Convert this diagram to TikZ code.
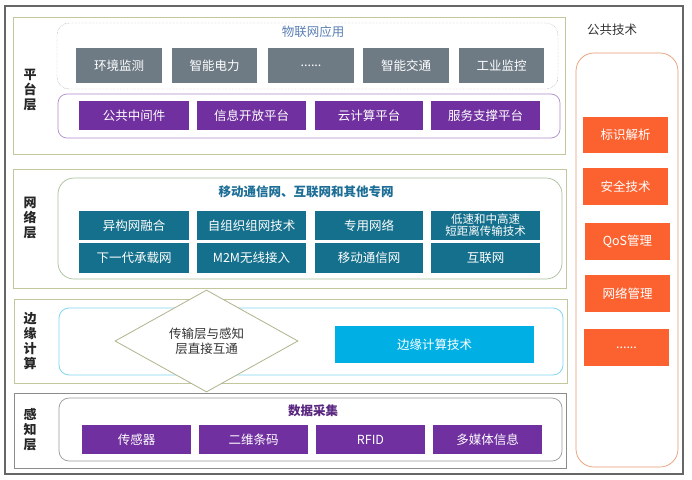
\documentclass[tikz,border=0pt]{standalone}
\usepackage{fontspec}
\setmainfont{Noto Sans CJK SC}
\usetikzlibrary{shapes.geometric}
\definecolor{cgray}{HTML}{6E7B85}
\definecolor{cpurple}{HTML}{7030A0}
\definecolor{cteal}{HTML}{14708C}
\definecolor{ccyan}{HTML}{00B0E4}
\definecolor{corange}{HTML}{FC6230}
\definecolor{colive}{HTML}{C4C79C}
\definecolor{ctitle}{HTML}{5B7FB4}
\definecolor{cnet}{HTML}{1C6E96}
\newcommand\mybox[7]{\node[#6, minimum width={#4-#2}, minimum height={#5-#3}] (#1) at ({(#2+#4)/2},{(#3+#5)/2}) {#7};}
\tikzset{
  fbox/.style={inner sep=0pt, text=white, fill=#1, font=\fontsize{12.5}{14}\selectfont},
  frame/.style={inner sep=0pt},
  laylabel/.style={align=center, font=\fontsize{13}{15}\selectfont\bfseries, text=black!85},
}
\begin{document}
\begin{tikzpicture}[x=1pt,y=-1pt]
\useasboundingbox (0,0) rectangle (692,479);
\fill[white] (0,0) rectangle (692,479);
% outer frame
\mybox{outer}{5}{6}{683}{474}{frame, draw=black!60, line width=1.5pt}{}

% ===== platform layer
\mybox{plat}{13}{17}{565}{154}{frame, draw=colive, line width=0.8pt}{}
\mybox{appgrp}{57}{23}{558}{89}{frame, draw=black!45, densely dotted, rounded corners=12pt}{}
\node[text=ctitle, font=\fontsize{12.5}{14}\selectfont] (apptitle) at (313,32) {物联网应用};
\mybox{a1}{76}{48}{162}{83}{fbox=cgray}{环境监测}
\mybox{a2}{172}{48}{257}{83}{fbox=cgray}{智能电力}
\mybox{a3}{268}{48}{354}{83}{fbox=cgray}{......}
\mybox{a4}{363}{48}{449}{83}{fbox=cgray}{智能交通}
\mybox{a5}{459}{48}{544}{83}{fbox=cgray}{工业监控}
\mybox{midgrp}{58}{94}{560}{138}{frame, draw=cpurple!55, line width=0.7pt, rounded corners=9pt}{}
\mybox{p1}{79}{101}{189}{130}{fbox=cpurple}{公共中间件}
\mybox{p2}{197}{101}{306}{130}{fbox=cpurple}{信息开放平台}
\mybox{p3}{315}{101}{423}{130}{fbox=cpurple}{云计算平台}
\mybox{p4}{431}{101}{540}{130}{fbox=cpurple}{服务支撑平台}
\node[laylabel] (l1) at (30,90) {平\\台\\层};

% ===== network layer
\mybox{net}{13}{169}{566}{288}{frame, draw=colive, line width=0.8pt}{}
\mybox{netgrp}{58}{178}{562}{279}{frame, draw=colive!80!green!70!black!60, line width=0.7pt, rounded corners=16pt}{}
\node[text=cnet, font=\fontsize{12.5}{14}\selectfont\bfseries] (nettitle) at (306,192) {移动通信网、互联网和其他专网};
\mybox{n1}{79}{211}{189}{240}{fbox=cteal}{异构网融合}
\mybox{n2}{197}{211}{306}{240}{fbox=cteal}{自组织组网技术}
\mybox{n3}{315}{211}{423}{240}{fbox=cteal}{专用网络}
\mybox{n4}{431}{211}{540}{240}{fbox=cteal, align=center, font=\fontsize{11.5}{12}\selectfont}{低速和中高速\\短距离传输技术}
\mybox{n5}{79}{243}{189}{273}{fbox=cteal}{下一代承载网}
\mybox{n6}{197}{243}{306}{273}{fbox=cteal}{M2M无线接入}
\mybox{n7}{315}{243}{423}{273}{fbox=cteal}{移动通信网}
\mybox{n8}{431}{243}{540}{273}{fbox=cteal}{互联网}
\node[laylabel] (l2) at (30,218) {网\\络\\层};

% ===== edge computing layer
\mybox{edge}{14}{299}{567}{383}{frame, draw=colive, line width=0.8pt}{}
\mybox{edgegrp}{59}{308}{563}{375}{frame, draw=ccyan!50, line width=0.8pt, rounded corners=10pt}{}
\mybox{e1}{335}{326}{534}{363}{fbox=ccyan}{边缘计算技术}
\node[laylabel] (l3) at (30,341) {边\\缘\\计\\算};

% ===== sensing layer
\mybox{sens}{14}{393}{566}{468}{frame, draw=black!45, line width=0.8pt}{}
\mybox{sensgrp}{59}{398}{562}{461}{frame, draw=black!40, line width=0.7pt, rounded corners=10pt}{}
\node[text=cpurple!80!black, font=\fontsize{12.5}{14}\selectfont\bfseries] (senstitle) at (313,411) {数据采集};
\mybox{s1}{82}{425}{191}{454}{fbox=cpurple}{传感器}
\mybox{s2}{199}{425}{308}{454}{fbox=cpurple}{二维条码}
\mybox{s3}{316}{425}{425}{454}{fbox=cpurple}{RFID}
\mybox{s4}{433}{425}{542}{454}{fbox=cpurple}{多媒体信息}
\node[laylabel] (l4) at (30,430) {感\\知\\层};

% diamond
\node[diamond, draw=colive!90!black, fill=white, line width=0.8pt, minimum width=183pt, minimum height=102pt, inner sep=0pt, aspect=1.8, align=center, font=\fontsize{12.5}{15}\selectfont, text=black!80] (dia) at (206.5,341) {传输层与感知\\层直接互通};

% ===== public technology
\node[font=\fontsize{12.5}{14}\selectfont, text=black!80] (pubtitle) at (612,30) {公共技术};
\mybox{pubgrp}{576}{53}{678}{467}{frame, draw=corange!50!brown!70, line width=0.7pt, rounded corners=18pt}{}
\mybox{t1}{583}{117}{668}{153}{fbox=corange}{标识解析}
\mybox{t2}{583}{168}{668}{205}{fbox=corange}{安全技术}
\mybox{t3}{585}{223}{670}{260}{fbox=corange}{QoS管理}
\mybox{t4}{585}{275}{670}{312}{fbox=corange}{网络管理}
\mybox{t5}{584}{329}{669}{366}{fbox=corange}{......}
\end{tikzpicture}
\end{document}
